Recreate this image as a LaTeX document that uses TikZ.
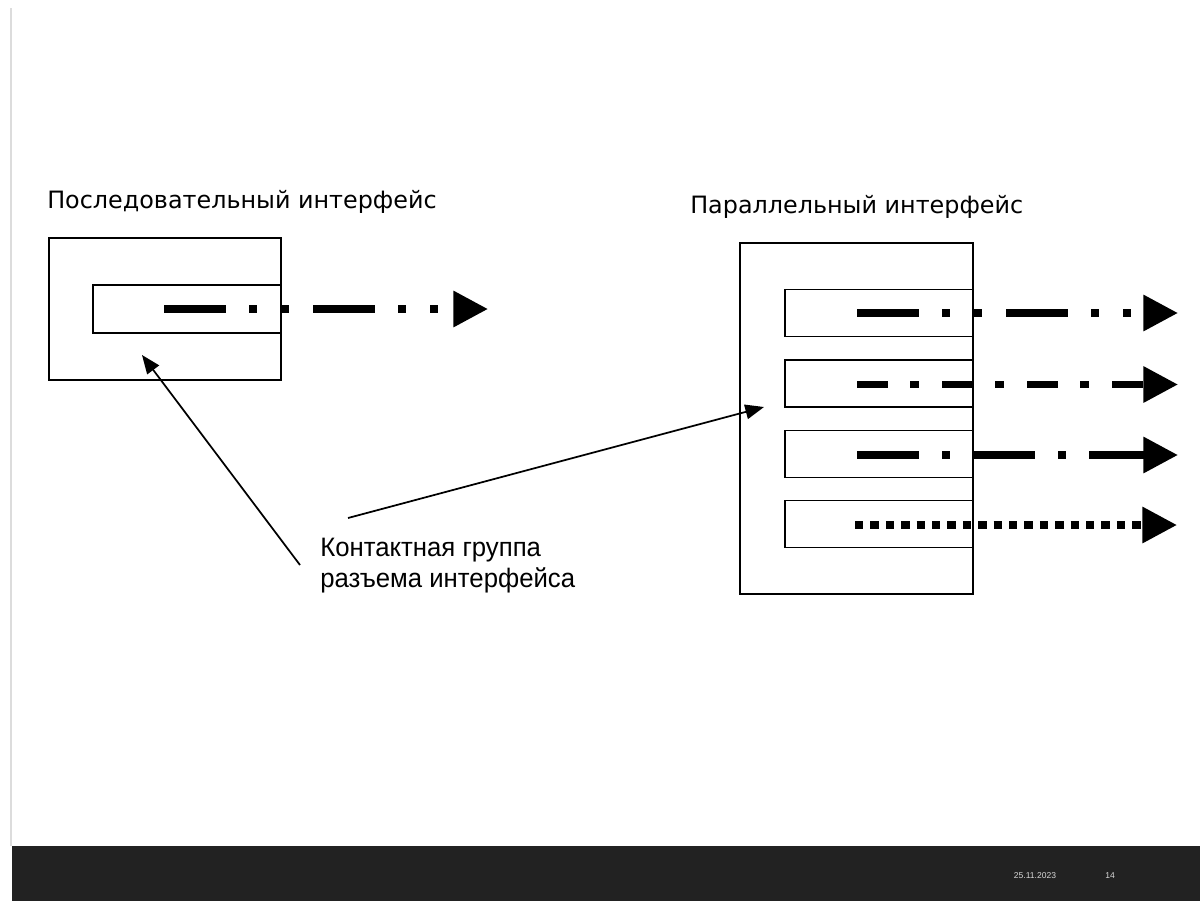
\documentclass[tikz,border=0pt]{standalone}
\usepackage{fontspec}
\setmainfont{Liberation Sans}
\newfontfamily\titlefont{DejaVu Sans}
\usetikzlibrary{arrows.meta}
\definecolor{footer}{HTML}{222222}
\definecolor{footertext}{HTML}{D8D8D8}
\definecolor{edge}{HTML}{DCDCDC}
\tikzset{
  box/.style={draw=black, line width=1.4pt, inner sep=0pt, fill=none},
  sz/.style 2 args={minimum width=#1*0.75pt, minimum height=#2*0.75pt},
  sig/.style={line width=5.6pt, -{Triangle[length=26pt,width=26pt]}},
  pat1/.style={dash pattern=on 46.5pt off 17.25pt on 6pt off 18pt on 6pt off 18pt},
  pat2/.style={dash pattern=on 23.25pt off 16.5pt on 6.75pt off 17.25pt},
  pat3/.style={dash pattern=on 46.5pt off 17.25pt on 6pt off 17.25pt},
  pat4/.style={dash pattern=on 6.3pt off 5.25pt},
  pointer/.style={line width=1.3pt, -{Triangle[length=14pt,width=11pt]}},
  title/.style={font=\titlefont\fontsize{17.9pt}{21pt}\selectfont, anchor=base west, inner sep=0pt},
  callout/.style={font=\fontsize{20pt}{23.25pt}\selectfont, align=left, anchor=north west, inner sep=0pt, xscale=0.965},
  foot/.style={font=\fontsize{6.4pt}{7pt}\selectfont, text=footertext, inner sep=0pt}
}
\begin{document}
\begin{tikzpicture}[x=0.75pt,y=-0.75pt]
\fill[white] (0,0) rectangle (1200,901);
\useasboundingbox (0,0) rectangle (1200,901);
\draw[edge, line width=1.5pt] (11,8) -- (11,846);
\fill[footer] (12,846) rectangle (1200,901);

% titles
\node[title] (tl) at (47,208) {Последовательный интерфейс};
\node[title] (tr) at (690,213) {Параллельный интерфейс};

% serial interface
\node[box, sz={232}{142}] (lo) at (165,309) {};
\node[box, sz={188}{48}] (li) at (187,309) {};
\coordinate (ls) at (164,309);
\coordinate (le) at (488,309);
\draw[sig, pat1] (ls) -- (le);

% parallel interface
\node[box, sz={233}{351}] (ro) at (856.5,418.5) {};
\node[box, sz={188}{47}] (r1) at (879,313) {};
\node[box, sz={188}{47}] (r2) at (879,383.5) {};
\node[box, sz={188}{47}] (r3) at (879,454) {};
\node[box, sz={188}{47}] (r4) at (879,524) {};
\coordinate (s1) at (857,313);   \coordinate (e1) at (1178,313);
\coordinate (s2) at (857,384.5); \coordinate (e2) at (1178,384.5);
\coordinate (s3) at (857,455);   \coordinate (e3) at (1178,455);
\coordinate (s4) at (855,525);   \coordinate (e4) at (1177,525);
\draw[sig, pat1] (s1) -- (e1);
\draw[sig, pat2] (s2) -- (e2);
\draw[sig, pat3] (s3) -- (e3);
\draw[sig, pat4] (s4) -- (e4);

% callout
\node[callout] (lab) at (320,538) {Контактная группа\\разъема интерфейса};
\coordinate (p1) at (300,565);
\coordinate (p2) at (348,518);
\coordinate (t1) at (142,355);
\coordinate (t2) at (764,407);
\draw[pointer] (p1) -- (t1);
\draw[pointer] (p2) -- (t2);

% footer
\node[foot] (date) at (1035,876) {25.11.2023};
\node[foot] (num) at (1110,876) {14};
\end{tikzpicture}
\end{document}
